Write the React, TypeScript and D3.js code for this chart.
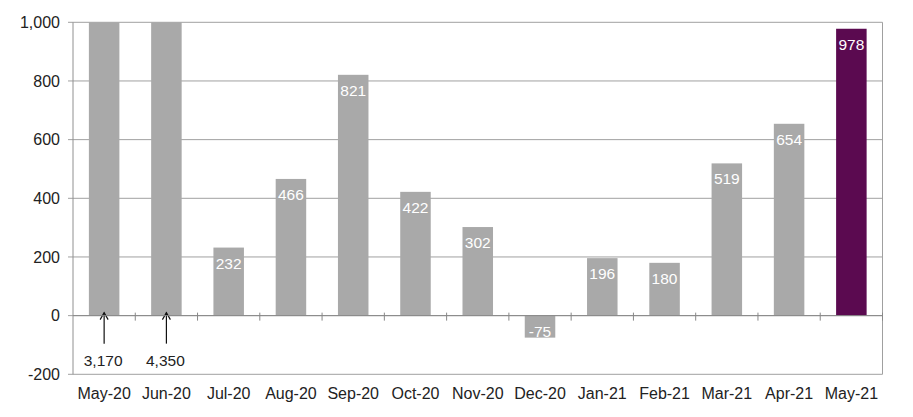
import React from "react";
import * as d3 from "d3";

const categories = ["May-20","Jun-20","Jul-20","Aug-20","Sep-20","Oct-20","Nov-20","Dec-20","Jan-21","Feb-21","Mar-21","Apr-21","May-21"];
const values = [3170, 4350, 232, 466, 821, 422, 302, -75, 196, 180, 519, 654, 978];
const yTicks = [-200, 0, 200, 400, 600, 800, 1000];
const yDomain = [-200, 1000];

const W = 913, H = 417;
const left = 73, right = 882.5, top = 22.3, bottom = 374.3;
const font = "Arial, 'Liberation Sans', sans-serif";
const gray = "#A9A9A9";
const purple = "#5B0A50";

const fmtRaw = d3.format(",");
const fmt = (v: number) => fmtRaw(v).replace("\u2212", "-");

export default function App() {
  const x = d3.scaleBand<string>().domain(categories).range([left, right]).paddingInner(0.51).paddingOuter(0.255);
  const band = d3.scaleBand<string>().domain(categories).range([left, right]);
  const y = d3.scaleLinear().domain(yDomain).range([bottom, top]);
  const y0 = y(0);
  return (
    <svg width={W} height={H} style={{ position: "absolute", left: 0, top: 0, background: "#fff" }} fontFamily={font}>
      {yTicks.map(t => (
        <g key={t}>
          <line x1={left - 5} x2={right} y1={y(t)} y2={y(t)} stroke="#A0A0A0" strokeWidth={1} />
          <text x={60} y={y(t)} dy="0.35em" textAnchor="end" fontSize={16} fill="#222">{fmt(t)}</text>
        </g>
      ))}
      <line x1={left} x2={left} y1={top} y2={bottom} stroke="#909090" />
      <line x1={right} x2={right} y1={top} y2={bottom} stroke="#A0A0A0" />
      {categories.map((c, i) => {
        const v = values[i];
        const clipped = Math.min(v, yDomain[1]);
        const bx = x(c)!;
        const bw = x.bandwidth();
        const yTop = y(Math.max(clipped, 0));
        const yBot = y(Math.min(clipped, 0));
        const cx = bx + bw / 2;
        const fill = i === categories.length - 1 ? purple : gray;
        return (
          <g key={c}>
            <rect x={bx} y={yTop} width={bw} height={yBot - yTop} fill={fill} />
            {v > yDomain[1] ? (
              <g>
                <line x1={cx} x2={cx} y1={y0 - 3} y2={y0 + 28} stroke="#111" strokeWidth={1.2} />
                <polyline points={`${cx - 4},${y0 + 4} ${cx},${y0 - 3} ${cx + 4},${y0 + 4}`} fill="none" stroke="#111" strokeWidth={1.2} />
                <text x={cx - 1} y={y0 + 50} textAnchor="middle" fontSize={15.5} fill="#222">{fmt(v)}</text>
              </g>
            ) : v >= 0 ? (
              <text x={cx} y={yTop + 21} textAnchor="middle" fontSize={15.5} fill="#fff">{fmt(v)}</text>
            ) : (
              <text x={cx} y={yBot - 1} textAnchor="middle" fontSize={15.5} fill="#fff">{fmt(v)}</text>
            )}
            <text x={band(c)! + band.bandwidth() / 2} y={399} textAnchor="middle" fontSize={16} fill="#222">{c}</text>
          </g>
        );
      })}
      <line x1={left} x2={right} y1={y0} y2={y0} stroke="#888" />
      {categories.slice(1).map(c => (
        <line key={c} x1={band(c)!} x2={band(c)!} y1={y0 - 3} y2={y0 + 5} stroke="#888" />
      ))}
      <line x1={right} x2={right} y1={y0 - 3} y2={y0 + 5} stroke="#888" />
    </svg>
  );
}
